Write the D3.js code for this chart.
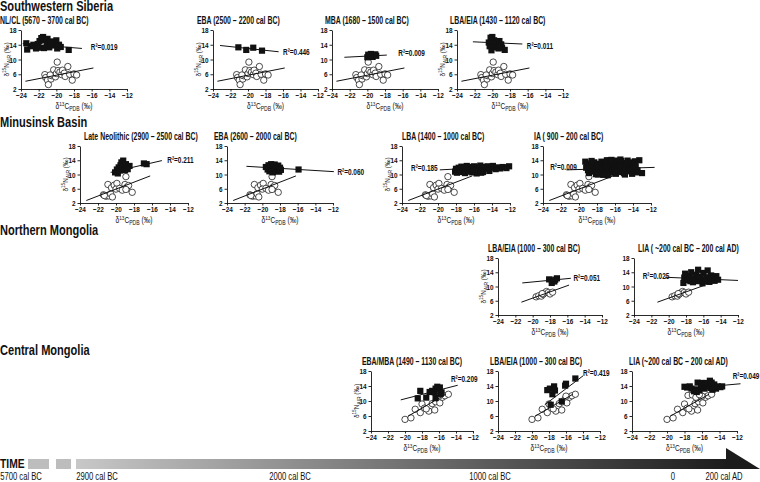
<!DOCTYPE html>
<html>
<head>
<meta charset="utf-8">
<script src="https://cdn.jsdelivr.net/npm/d3@7"></script>
<style>
  html,body{margin:0;padding:0;background:#fff;}
  svg{display:block;}
  text{font-family:"Liberation Sans",Arial,sans-serif;fill:#111;}
</style>
</head>
<body>
<svg id="chart" width="760" height="482"></svg>
<script>
// ---------------- DATA ----------------
const regionNames = ["Southwestern Siberia","Minusinsk Basin","Northern Mongolia","Central Mongolia"];

const panelTitles = [
  "NL/CL (5670 – 3700 cal BC)","EBA (2500 – 2200 cal BC)","MBA (1680 – 1500 cal BC)","LBA/EIA (1430 – 1120 cal BC)",
  "Late Neolithic (2900 – 2500 cal BC)","EBA (2600 – 2000 cal BC)","LBA (1400 – 1000 cal BC)","IA ( 900 – 200 cal BC)",
  "LBA/EIA (1000 – 300 cal BC)","LIA ( ~200 cal BC – 200 cal AD)",
  "EBA/MBA (1490 – 1130 cal BC)","LBA/EIA (1000 – 300 cal BC)","LIA (~200 cal BC – 200 cal AD)"
];
const r2Values = ["0.019","0.446","0.009","0.011","0.211","0.060","0.185","0.009","0.051","0.025","0.209","0.419","0.049"];
// R² label anchor (δ13C, δ15N)
const r2Anchor = [[-16.1,13.4],[-16.0,12.2],[-16.5,11.9],[-16.1,13.7],[-14.3,14.2],[-11.5,10.8],[-23.0,11.9],[-23.2,12.3],[-15.3,12.6],[-23.0,13.1],[-14.6,16.0],[-14.0,17.6],[-12.5,16.8]];

const xTicks = [-24,-22,-20,-18,-16,-14,-12];
const yTicks = [2,6,10,14,18];

// herbivore baselines (open circles)
const herbSWSiberia = [[-21.3,5.9],[-21.2,5.1],[-21.0,4.4],[-20.9,3.2],[-20.6,4.7],[-20.5,5.6],[-20.3,7.2],[-20.1,5.3],[-20.0,6.2],[-19.9,9.3],[-19.8,7.0],[-19.6,6.6],[-19.4,5.9],[-19.3,7.1],[-19.1,6.3],[-19.0,5.4],[-18.7,8.1],[-18.5,6.0],[-18.2,4.4],[-18.0,6.1],[-17.7,5.8],[-20.7,5.8]];
const herbMinusinsk = [[-21.4,4.3],[-21.1,3.9],[-20.8,4.0],[-20.6,4.6],[-20.9,7.2],[-20.5,6.3],[-20.2,7.0],[-19.9,7.5],[-20.0,5.9],[-19.6,6.1],[-19.3,5.6],[-18.9,9.4],[-19.0,7.2],[-18.8,6.4],[-18.6,6.9],[-18.9,5.8],[-18.2,5.0],[-21.3,4.1],[-20.4,3.7]];
const herbNMongolia = [[-19.6,7.1],[-19.3,7.4],[-19.0,7.3],[-18.8,7.8],[-18.6,8.2],[-18.4,8.6],[-18.2,8.3],[-18.0,7.9],[-17.7,8.4],[-18.9,8.0]];
const herbCMongolia = [[-20.0,5.1],[-19.3,5.5],[-18.8,7.8],[-18.2,6.9],[-18.0,9.2],[-17.7,8.1],[-17.2,7.3],[-16.8,9.3],[-16.5,7.6],[-16.4,9.8],[-16.1,10.6],[-15.9,9.5],[-15.6,11.0],[-15.3,11.4],[-14.9,11.8],[-17.5,7.9],[-16.0,11.3]];
const herbCMongoliaLIA = [[-20.0,5.1],[-19.3,5.5],[-18.8,7.8],[-18.2,6.9],[-18.0,9.2],[-17.7,8.1],[-17.2,7.3],[-16.8,9.3],[-16.5,7.6],[-16.4,9.8],[-16.1,10.6],[-15.9,9.5],[-15.6,11.0],[-15.3,11.4],[-14.9,11.8],[-17.5,7.9],[-16.0,11.3],[-17.6,11.5],[-17.1,11.6],[-16.7,11.0],[-16.3,11.7]];

// human / fauna (filled squares)
const sqSWS_NLCL = [[-23.4,14.4],[-23.3,12.7],[-22.9,13.6],[-22.6,14.0],[-22.3,13.0],[-22.1,14.2],[-21.9,15.0],[-21.7,15.8],[-21.5,16.1],[-21.3,15.3],[-21.1,14.5],[-21.0,15.6],[-20.8,13.3],[-20.6,14.9],[-20.4,13.8],[-20.2,14.3],[-20.0,15.2],[-19.9,13.0],[-19.7,14.0],[-19.5,13.4],[-21.4,13.1],[-18.6,12.6],[-22.0,13.2]];
const sqSWS_EBA = [[-21.1,13.3],[-20.2,12.6],[-19.4,13.2],[-18.4,12.4]];
const sqSWS_MBA = [[-20.0,10.6],[-19.9,11.3],[-19.6,11.5],[-19.4,10.7],[-19.1,11.4],[-19.0,11.0],[-19.7,10.9]];
const sqSWS_LBA = [[-20.4,14.6],[-20.2,15.9],[-20.0,16.1],[-19.8,15.2],[-19.7,14.3],[-19.9,13.3],[-20.1,12.5],[-19.5,14.8],[-19.2,15.0],[-19.0,14.1],[-18.9,13.2],[-18.6,12.6],[-19.3,13.0],[-20.3,13.6]];
const sqMIN_LN = [[-20.1,10.6],[-19.9,11.4],[-19.8,10.3],[-19.7,12.0],[-19.6,11.1],[-19.5,12.6],[-19.4,13.4],[-19.3,11.7],[-19.2,13.9],[-19.1,12.3],[-19.0,11.2],[-18.9,12.9],[-18.8,12.0],[-18.7,11.5],[-18.5,12.4],[-16.9,13.1],[-16.6,12.9]];
const sqMIN_EBA = [[-19.6,12.1],[-19.4,11.4],[-19.3,12.6],[-19.1,11.8],[-19.0,12.9],[-18.9,11.0],[-18.8,12.4],[-18.7,11.7],[-18.6,12.8],[-18.5,11.2],[-18.4,12.2],[-18.3,11.6],[-18.2,12.5],[-18.1,10.8],[-18.0,11.9],[-17.9,11.3],[-18.8,10.6],[-19.2,10.9],[-15.9,11.4]];
const sqMIN_LBA = [[-18.1,10.8],[-18.0,11.6],[-17.9,10.5],[-17.8,11.2],[-17.7,11.9],[-17.6,10.9],[-17.5,11.5],[-17.4,12.2],[-17.3,10.7],[-17.2,11.3],[-17.1,11.8],[-17.0,10.4],[-16.9,11.1],[-16.8,12.4],[-16.7,11.6],[-16.6,10.8],[-16.5,11.9],[-16.4,11.3],[-16.3,12.1],[-16.2,10.6],[-16.1,11.5],[-16.0,12.3],[-15.9,11.0],[-15.8,11.7],[-15.7,10.3],[-15.6,12.0],[-15.5,11.2],[-15.4,11.8],[-15.3,12.5],[-15.1,11.4],[-15.0,10.7],[-14.9,12.1],[-14.7,11.6],[-14.5,12.3],[-14.3,11.0],[-14.1,11.9],[-13.9,12.4],[-13.6,11.5],[-13.4,12.0],[-13.1,11.7],[-12.8,12.1],[-12.4,11.8],[-12.1,12.3],[-17.0,12.0],[-16.0,10.9],[-15.2,10.5]];
const sqMIN_IA = [[-19.3,13.6],[-19.1,12.9],[-19.0,11.2],[-18.9,10.4],[-18.8,12.3],[-18.7,13.1],[-18.6,11.7],[-18.5,10.8],[-18.4,12.6],[-18.3,13.4],[-18.2,11.3],[-18.1,10.1],[-18.0,12.0],[-17.9,13.0],[-17.8,11.5],[-17.7,10.6],[-17.6,12.4],[-17.5,13.6],[-17.4,11.0],[-17.3,12.8],[-17.2,10.3],[-17.1,11.9],[-17.0,13.3],[-16.9,12.2],[-16.8,10.9],[-16.7,11.6],[-16.6,13.9],[-16.5,12.5],[-16.4,10.5],[-16.3,11.3],[-16.2,12.9],[-16.1,13.5],[-16.0,11.8],[-15.9,10.2],[-15.8,12.3],[-15.7,13.1],[-15.6,11.1],[-15.5,12.6],[-15.4,10.7],[-15.3,13.8],[-15.2,11.9],[-15.1,12.4],[-15.0,10.4],[-14.9,13.2],[-14.8,11.4],[-14.7,12.7],[-14.6,13.9],[-14.5,10.9],[-14.4,12.1],[-14.3,11.5],[-14.2,13.4],[-14.1,10.2],[-14.0,12.8],[-13.9,11.7],[-13.8,13.7],[-13.7,12.3],[-13.6,10.6],[-13.5,11.2],[-13.3,14.0],[-13.0,10.4],[-17.9,10.0],[-16.9,14.0],[-15.9,13.9],[-18.6,13.8],[-17.3,9.9],[-14.9,10.0],[-16.4,14.1],[-19.2,11.9],[-15.4,14.2],[-16.8,9.8]];
const sqNMO_LBA = [[-18.1,12.0],[-17.8,11.0],[-17.5,11.4],[-17.2,12.3],[-17.4,11.9]];
const sqNMO_LIA = [[-18.3,11.0],[-18.2,12.5],[-18.1,13.6],[-17.8,11.8],[-17.6,12.9],[-17.4,14.0],[-17.2,11.2],[-17.0,12.3],[-16.8,13.3],[-16.6,14.7],[-16.5,11.5],[-16.3,12.7],[-16.1,10.9],[-16.0,13.8],[-15.8,11.9],[-15.6,12.6],[-15.5,14.5],[-15.3,11.3],[-15.1,13.1],[-14.9,12.2],[-14.7,11.6],[-14.5,12.9],[-14.3,11.9],[-15.9,11.4],[-17.5,11.5]];
const sqCMO_EBA = [[-18.5,10.7],[-18.2,12.7],[-17.5,10.9],[-17.1,12.4],[-16.8,12.7],[-16.5,12.3],[-16.4,13.3],[-16.2,13.8],[-15.9,13.6],[-15.7,12.3],[-16.4,10.8],[-15.8,11.9]];
const sqCMO_LBA = [[-17.8,9.0],[-18.2,12.9],[-17.9,13.3],[-17.4,13.9],[-17.6,11.8],[-17.3,12.8],[-16.5,9.9],[-16.1,14.1],[-16.0,14.6],[-14.9,16.0]];
const sqCMO_LIA = [[-18.0,13.8],[-17.7,13.6],[-17.4,13.9],[-17.2,13.3],[-16.9,12.6],[-16.7,13.1],[-16.5,14.9],[-16.3,12.8],[-16.1,13.5],[-16.0,14.8],[-15.8,14.2],[-15.7,13.3],[-15.5,13.9],[-15.3,14.6],[-15.1,15.4],[-15.0,13.5],[-14.9,14.9],[-14.7,13.8],[-14.6,14.4],[-14.4,13.3],[-14.2,13.9],[-13.9,13.7],[-13.7,13.9],[-16.6,12.4],[-15.6,14.8],[-14.8,13.0]];

// regression lines (endpoints in data units): [x1,y1,x2,y2]
const herbFit = [
  [-23.5,4.1,-15.8,7.7],[-23.5,4.1,-15.8,7.7],[-23.5,4.1,-15.8,7.7],[-23.5,4.1,-15.8,7.7],
  [-23.3,2.7,-16.2,9.6],[-23.3,2.7,-16.2,9.6],[-23.3,2.7,-16.2,9.6],[-23.3,2.7,-16.2,9.6],
  [-21.3,5.6,-15.8,10.4],[-21.3,5.6,-15.8,10.4],
  [-19.6,6.0,-15.2,11.8],[-19.6,6.0,-15.2,11.8],[-19.6,6.0,-15.2,11.8]
];
const faunaFit = [
  [-23.8,14.3,-17.1,13.0],[-23.2,13.8,-16.5,12.1],[-22.6,10.6,-17.8,11.2],[-22.2,14.8,-16.6,14.2],
  [-20.6,10.6,-14.9,13.9],[-21.8,12.3,-11.9,10.8],[-19.8,11.3,-12.0,12.3],[-21.4,11.3,-11.6,12.0],
  [-21.2,11.0,-15.6,12.3],[-20.4,12.6,-12.0,11.7],
  [-20.5,10.3,-13.8,14.2],[-18.5,9.0,-14.0,16.7],[-18.3,13.2,-11.6,14.6]
];

const timeLabels = ["5700 cal BC","2900 cal BC","2000 cal BC","1000 cal BC","0","200 cal AD"];
const timeYears = [-5700,-2900,-2000,-1000,0,200];

// ---------------- LAYOUT ----------------
const herbSets = [herbSWSiberia,herbSWSiberia,herbSWSiberia,herbSWSiberia,herbMinusinsk,herbMinusinsk,herbMinusinsk,herbMinusinsk,herbNMongolia,herbNMongolia,herbCMongolia,herbCMongolia,herbCMongoliaLIA];
const sqSets = [sqSWS_NLCL,sqSWS_EBA,sqSWS_MBA,sqSWS_LBA,sqMIN_LN,sqMIN_EBA,sqMIN_LBA,sqMIN_IA,sqNMO_LBA,sqNMO_LIA,sqCMO_EBA,sqCMO_LBA,sqCMO_LIA];
const rowGeom = [{top:30,bot:89},{top:146,bot:203},{top:258,bot:315},{top:371,bot:431}];
const panelLayout = [
  {row:0,x:21,w:106,ylab:true,tdx:-21},{row:0,x:213,w:105,ylab:true,tdx:-16},{row:0,x:332,w:106,ylab:false,tdx:-7},{row:0,x:457,w:106,ylab:true,tdx:-7},
  {row:1,x:80,w:108,ylab:true,tdx:4},{row:1,x:227,w:106,ylab:false,tdx:-13},{row:1,x:402,w:108,ylab:true,tdx:0},{row:1,x:543,w:108,ylab:false,tdx:-9},
  {row:2,x:498,w:104,ylab:true,tdx:-10},{row:2,x:634,w:104,ylab:false,tdx:4},
  {row:3,x:371,w:102,ylab:true,tdx:-9},{row:3,x:498,w:102,ylab:false,tdx:-8},{row:3,x:632,w:105,ylab:false,tdx:-3}
];
const regionY = [11,127,235,355];

const svg = d3.select("#chart");

// horizontally condense text (mimics a condensed typeface)
function condense(sel, f){
  sel.each(function(){
    const x = +(this.getAttribute("x") || 0), y = +(this.getAttribute("y") || 0);
    const tr = this.getAttribute("transform") || "";
    this.setAttribute("x",0); this.setAttribute("y",0);
    this.setAttribute("transform", `${tr} translate(${x},${y}) scale(${f},1)`);
  });
}

regionNames.forEach((n,i)=>{
  const t = svg.append("text").attr("x",0).attr("y",regionY[i])
    .style("font-size","14px").style("font-weight","bold").attr("fill","#222").text(n);
  condense(t,0.79);
});

panelLayout.forEach((p,i)=>{
  const g = rowGeom[p.row];
  const x = d3.scaleLinear().domain([-24,-12]).range([p.x,p.x+p.w]);
  const y = d3.scaleLinear().domain([2,18]).range([g.bot,g.top]);
  const gp = svg.append("g");

  // title
  const tt = gp.append("text").attr("x",p.x+p.tdx).attr("y",g.top-6.5)
    .style("font-size","10.5px").style("font-weight","bold").text(panelTitles[i]);
  condense(tt,0.66);

  // axes
  const ax = gp.append("g").attr("transform",`translate(0,${g.bot})`)
    .call(d3.axisBottom(x).tickValues(xTicks).tickSize(2.5).tickSizeOuter(0));
  const ay = gp.append("g").attr("transform",`translate(${p.x},0)`)
    .call(d3.axisLeft(y).tickValues(yTicks).tickSize(2.5).tickSizeOuter(0));
  [ax,ay].forEach(a=>{
    a.selectAll("path,line").attr("stroke","#111").attr("stroke-width",0.9);
    a.selectAll("text").style("font-size","8px").style("font-weight","bold")
      .style("font-family",'"Liberation Sans",Arial,sans-serif').attr("fill","#222");
  });
  ax.selectAll("text").attr("dy","0.45em");
  ay.selectAll("text").attr("x",-4.5);
  condense(ax.selectAll("text"),0.8);
  condense(ay.selectAll("text"),0.8);

  // x title
  const xt = gp.append("text").attr("x",p.x+p.w/2).attr("y",g.bot+19.5)
    .attr("text-anchor","middle").style("font-size","8.5px").attr("fill","#444");
  xt.append("tspan").text("δ");
  xt.append("tspan").attr("dy","-3").style("font-size","6px").text("13");
  xt.append("tspan").attr("dy","3").text("C");
  xt.append("tspan").attr("dy","2").style("font-size","6.5px").text("PDB");
  xt.append("tspan").attr("dy","-2").text(" (‰)");
  condense(xt,0.78);

  if(p.ylab){
    const yt = gp.append("text")
      .attr("transform",`translate(${p.x-12},${(g.top+g.bot)/2}) rotate(-90)`)
      .attr("text-anchor","middle").style("font-size","8px").attr("fill","#444");
    yt.append("tspan").text("δ");
    yt.append("tspan").attr("dy","-3").style("font-size","5.8px").text("15");
    yt.append("tspan").attr("dy","3").text("N");
    yt.append("tspan").attr("dy","2").style("font-size","6.2px").text("AIR");
    yt.append("tspan").attr("dy","-2").text(" (‰)");
    condense(yt,0.8);
  }

  // herbivores
  gp.append("g").selectAll("circle").data(herbSets[i]).join("circle")
    .attr("cx",d=>x(d[0])).attr("cy",d=>y(d[1])).attr("r",3.2)
    .attr("fill","#fff").attr("stroke","#111").attr("stroke-width",0.75);
  // squares
  const s = 6.2;
  gp.append("g").selectAll("rect").data(sqSets[i]).join("rect")
    .attr("x",d=>x(d[0])-s/2).attr("y",d=>y(d[1])-s/2).attr("width",s).attr("height",s)
    .attr("fill","#111");
  // fit lines
  [herbFit[i],faunaFit[i]].forEach(l=>{
    gp.append("line").attr("x1",x(l[0])).attr("y1",y(l[1])).attr("x2",x(l[2])).attr("y2",y(l[3]))
      .attr("stroke","#111").attr("stroke-width",1);
  });
  // R2
  const rt = gp.append("text").attr("x",x(r2Anchor[i][0])).attr("y",y(r2Anchor[i][1])).attr("dy","0.35em")
    .style("font-size","9.5px").style("font-weight","bold").text("R²=" + r2Values[i]);
  condense(rt,0.68);
});

// ---------------- TIMELINE ----------------
const defs = svg.append("defs");
const grad = defs.append("linearGradient").attr("id","tgrad").attr("x1","0%").attr("x2","100%");
grad.append("stop").attr("offset","0%").attr("stop-color","#c8c8c8");
grad.append("stop").attr("offset","100%").attr("stop-color","#1c1c1c");

const tScale = d3.scaleLinear().domain(timeYears).range([21,97,290,490,673,724]);
const barTop = 459, barBot = 469;
svg.append("rect").attr("x",28).attr("y",barTop).attr("width",21).attr("height",barBot-barTop).attr("fill","#bdbdbd");
svg.append("rect").attr("x",56).attr("y",barTop).attr("width",15).attr("height",barBot-barTop).attr("fill","#bdbdbd");
svg.append("rect").attr("x",76).attr("y",barTop).attr("width",652).attr("height",barBot-barTop).attr("fill","url(#tgrad)");
svg.append("path").attr("d",`M726,${barTop-11}L760,${barBot}L726,${barBot}Z`).attr("fill","#1c1c1c");
const tm = svg.append("text").attr("x",0).attr("y",barBot-1).style("font-size","12px").style("font-weight","bold").attr("fill","#333").text("TIME");
condense(tm,0.86);

const tl = svg.append("g").selectAll("text").data(timeLabels).join("text")
  .attr("x",(d,i)=>tScale(timeYears[i])).attr("y",480)
  .attr("text-anchor","middle").style("font-size","10.5px").text(d=>d);
condense(tl,0.73);
</script>
</body>
</html>
